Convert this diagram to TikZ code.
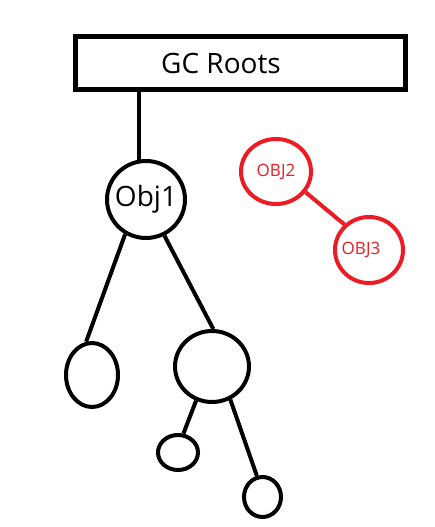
\documentclass[tikz,border=0pt]{standalone}
\usepackage{fontspec}
\setmainfont{Open Sans}
\usetikzlibrary{shapes.geometric}
\definecolor{rojo}{HTML}{ED1C24}
\begin{document}
\begin{tikzpicture}[x=1pt,y=-1pt,line width=4pt,
  obj/.style={draw,ellipse,inner sep=0pt},
  redobj/.style={obj,draw=rojo,text=rojo,font=\fontsize{17}{17}\selectfont},
  redtext/.style={text=rojo,font=\fontsize{17}{17}\selectfont}]
\useasboundingbox (0,0) rectangle (435,527);
% Raiz
\node[draw,line width=5pt,minimum width=330pt,minimum height=53pt,inner sep=0pt] (root) at (240.5,63) {};
\node[font=\fontsize{28}{28}\selectfont] (rootlabel) at (221,63) {GC Roots};
% Objetos alcanzables
\node[obj,minimum width=78pt,minimum height=77pt,
  label={[font=\fontsize{28}{28}\selectfont]center:Obj1}] (obj1) at (146,199.5) {};
\node[obj,minimum width=52pt,minimum height=64pt] (left) at (92,375) {};
\node[obj,minimum width=74pt,minimum height=71pt] (right) at (212,366.5) {};
\node[obj,minimum width=40pt,minimum height=35pt] (small) at (178,452.5) {};
\node[obj,minimum width=37pt,minimum height=40pt] (bottom) at (262.5,497) {};
\draw (root.south -| obj1.100) -- (obj1.100);
\draw (obj1.239) -- (left.100);
\draw (obj1.297) -- (right.88);
\draw (right.245) -- (small.74);
\draw (right.299) -- (bottom.105);
% Objetos no alcanzables
\node[redobj,minimum width=70pt,minimum height=65pt] (obj2) at (276,171.5) {OBJ2};
\node[redobj,minimum width=68pt,minimum height=66pt,
  label={[redtext,xshift=-8pt]center:OBJ3}] (obj3) at (369,250) {};
\draw[rojo] (obj2.325) -- (obj3.134);
\end{tikzpicture}
\end{document}
